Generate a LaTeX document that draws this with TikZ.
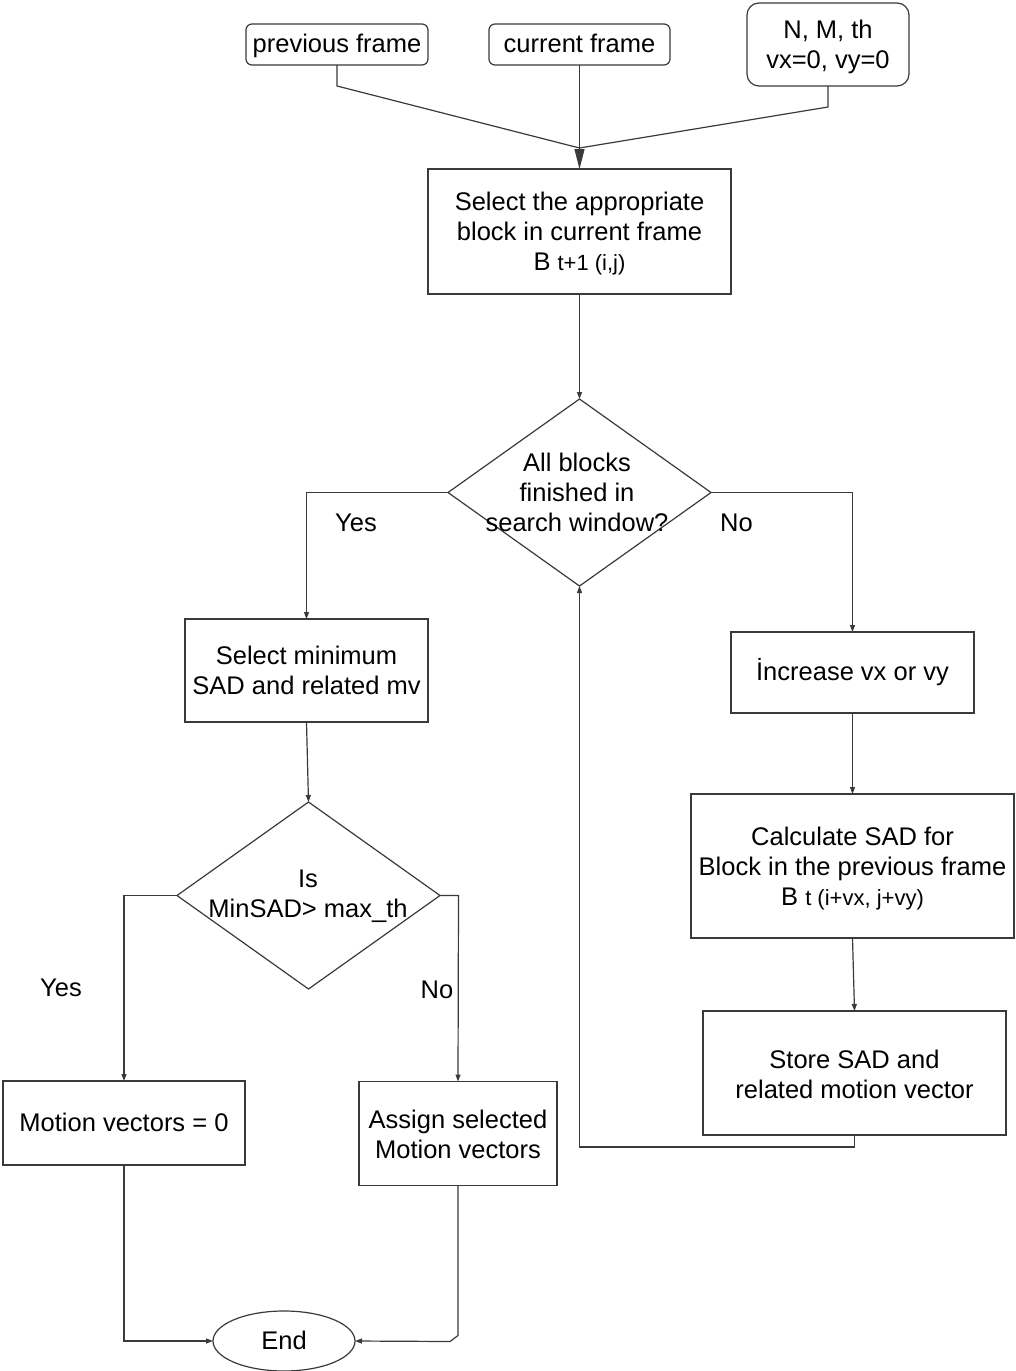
\documentclass[tikz,border=0pt]{standalone}
\usepackage{fontspec}
\setmainfont{Liberation Sans}
\usetikzlibrary{shapes.geometric,arrows.meta}

\definecolor{edgegray}{HTML}{3A3A3A}
\newcommand\chartfont{\fontsize{25.5}{30}\selectfont}
\newcommand\subfont{\fontsize{22}{30}\selectfont}

\begin{document}
\begin{tikzpicture}[x=1pt,y=-1pt,
  every node/.style={outer sep=0pt, inner sep=0pt, font=\chartfont, text=black},
  oneline/.style={text height=18pt, text depth=2pt},
  shapeline/.style={draw=edgegray, line width=1.2pt},
  box/.style={shapeline, rectangle, align=center},
  inbox/.style={box, oneline, rounded corners=6pt},
  parambox/.style={box, rounded corners=12pt},
  decision/.style={shapeline, diamond, minimum width=263pt, minimum height=187pt},
  terminal/.style={shapeline, ellipse, oneline},
  conn/.style={draw=edgegray, line width=1.2pt},
  flow/.style={conn, -{Triangle[length=7pt,width=5pt]}},
  bigflow/.style={conn, -{Triangle[length=20pt,width=10pt]}},
  tag/.style={oneline}
]
\useasboundingbox[fill=white] (0,0) rectangle (1015,1371);

% inputs
\node[inbox, minimum width=182pt, minimum height=41pt] (prev) at (337,44.5) {previous frame};
\node[inbox, minimum width=181pt, minimum height=41pt] (cur) at (579.5,44.5) {current frame};
\node[parambox, minimum width=162pt, minimum height=83pt] (nmt) at (828,44.5) {};
\node[align=center] at (828,47) {N, M, th\\vx=0, vy=0};
\coordinate (join) at (579.5,148);

% block selection and search loop
\node[box, minimum width=303pt, minimum height=125pt] (sel) at (579.5,231.5) {};
\node[align=center] at (579.5,233.5) {Select the appropriate\\block in current frame\\B {\subfont t+1 (i,j)}};
\node[decision] (d1) at (579.5,492.5) {};
\node[align=center] at (577,492) {All blocks\\finished in\\search window?};
\node[box, oneline, minimum width=243pt, minimum height=81pt] (inc) at (852.5,672.5) {İncrease vx or vy};
\node[box, minimum width=323pt, minimum height=144pt] (calc) at (852.5,866) {};
\node[align=center] at (852.5,869) {Calculate SAD for\\Block in the previous frame\\B {\subfont t (i+vx, j+vy)}};
\node[box, minimum width=303pt, minimum height=124pt] (store) at (854.5,1073) {};
\node[align=center] at (854.5,1074) {Store SAD and\\related motion vector};

% decision on the minimum SAD
\node[box, minimum width=243pt, minimum height=103pt] (smin) at (306.5,670.5)
  {Select minimum\\SAD and related mv};
\node[decision] (d2) at (308.5,895.5) {};
\node[align=center] at (308,896) {Is\\MinSAD> max\_th};
\node[box, oneline, minimum width=242pt, minimum height=84pt] (mv0) at (124,1123) {Motion vectors = 0};
\node[box, minimum width=198pt, minimum height=104pt] (asg) at (458,1133.5) {};
\node[align=center] at (458,1134.5) {Assign selected\\Motion vectors};
\node[terminal, minimum width=142pt, minimum height=60pt] (end) at (284,1341) {End};

% branch labels
\node[tag] (yes1) at (356,523) {Yes};
\node[tag] (no1) at (736.5,523) {No};
\node[tag] (yes2) at (61,988) {Yes};
\node[tag] (no2) at (437,990) {No};

% connectors
\draw[conn] (prev.south) -- ++(0,21) -- (join);
\draw[conn] (nmt.south) -- ++(0,21) -- (join);
\draw[bigflow] (cur.south) -- (sel.north);
\draw[flow] (sel.south) -- (d1.north);
\draw[flow] (d1.west) -| (smin.north);
\draw[flow] (d1.east) -| (inc.north);
\draw[flow] (inc.south) -- (calc.north);
\draw[flow] (calc.south) -- (store.north);
\draw[flow] (store.south) -- ++(0,12) -| (d1.south);
\draw[flow] (smin.south) -- (d2.north);
\draw[flow] (d2.west) -| (mv0.north);
\draw[flow] (d2.east) -- ++(18.5,0) -- (asg.north);
\draw[flow] (mv0.south) |- (end.west);
\draw[flow] (asg.south) -- ++(0,150) -- ++(-8,6) -- (end.east);
\end{tikzpicture}
\end{document}
